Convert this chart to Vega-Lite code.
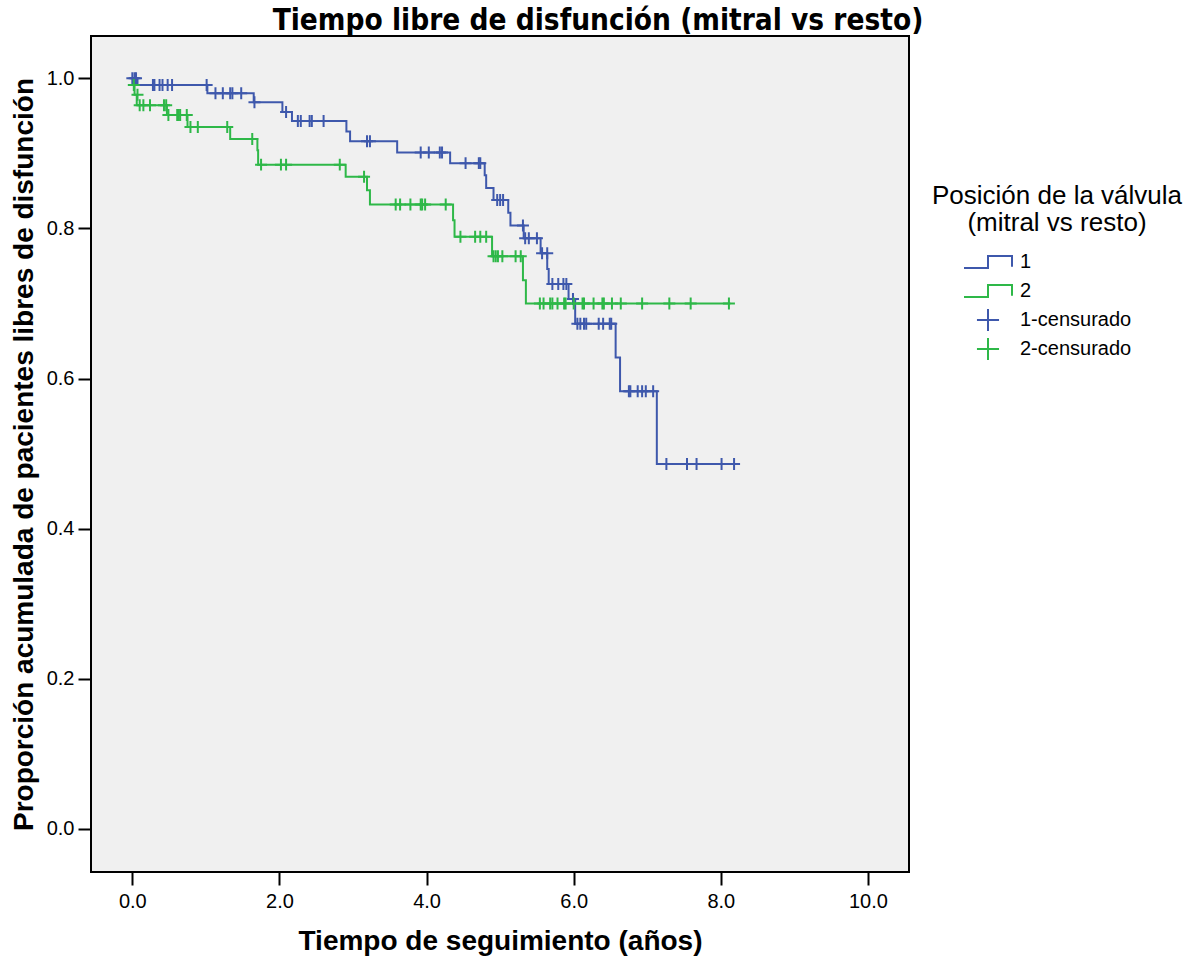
{
  "$schema": "https://vega.github.io/schema/vega-lite/v6.json",
  "width": 818,
  "height": 836,
  "autosize": {"type": "none"},
  "padding": {"left": 91, "top": 36, "right": 287, "bottom": 85},
  "background": "white",
  "title": {
    "text": "Tiempo libre de disfunción (mitral vs resto)",
    "anchor": "middle",
    "frame": "group",
    "dx": 98,
    "offset": 0,
    "font": "Liberation Sans Narrow, DejaVu Sans Condensed, Liberation Sans",
    "fontSize": 29.5,
    "fontWeight": "bold",
    "color": "black"
  },
  "datasets": {
    "km": [
      {"serie": "1", "kind": "step", "t": 0, "s": 1.0},
      {"serie": "1", "kind": "step", "t": 0.07, "s": 0.991},
      {"serie": "1", "kind": "step", "t": 1.02, "s": 0.980},
      {"serie": "1", "kind": "step", "t": 1.65, "s": 0.968},
      {"serie": "1", "kind": "step", "t": 2.04, "s": 0.955},
      {"serie": "1", "kind": "step", "t": 2.17, "s": 0.943},
      {"serie": "1", "kind": "step", "t": 2.91, "s": 0.929},
      {"serie": "1", "kind": "step", "t": 2.96, "s": 0.916},
      {"serie": "1", "kind": "step", "t": 3.60, "s": 0.901},
      {"serie": "1", "kind": "step", "t": 4.32, "s": 0.887},
      {"serie": "1", "kind": "step", "t": 4.79, "s": 0.871},
      {"serie": "1", "kind": "step", "t": 4.81, "s": 0.854},
      {"serie": "1", "kind": "step", "t": 4.91, "s": 0.838},
      {"serie": "1", "kind": "step", "t": 5.11, "s": 0.821},
      {"serie": "1", "kind": "step", "t": 5.14, "s": 0.804},
      {"serie": "1", "kind": "step", "t": 5.32, "s": 0.787},
      {"serie": "1", "kind": "step", "t": 5.55, "s": 0.767},
      {"serie": "1", "kind": "step", "t": 5.64, "s": 0.746},
      {"serie": "1", "kind": "step", "t": 5.66, "s": 0.726},
      {"serie": "1", "kind": "step", "t": 5.93, "s": 0.706},
      {"serie": "1", "kind": "step", "t": 6.02, "s": 0.673},
      {"serie": "1", "kind": "step", "t": 6.57, "s": 0.628},
      {"serie": "1", "kind": "step", "t": 6.63, "s": 0.583},
      {"serie": "1", "kind": "step", "t": 7.13, "s": 0.486},
      {"serie": "1", "kind": "step", "t": 8.18, "s": 0.486},
      {"serie": "2", "kind": "step", "t": 0, "s": 0.991},
      {"serie": "2", "kind": "step", "t": 0.03, "s": 0.978},
      {"serie": "2", "kind": "step", "t": 0.06, "s": 0.964},
      {"serie": "2", "kind": "step", "t": 0.47, "s": 0.951},
      {"serie": "2", "kind": "step", "t": 0.75, "s": 0.935},
      {"serie": "2", "kind": "step", "t": 1.33, "s": 0.919},
      {"serie": "2", "kind": "step", "t": 1.70, "s": 0.904},
      {"serie": "2", "kind": "step", "t": 1.71, "s": 0.885},
      {"serie": "2", "kind": "step", "t": 2.90, "s": 0.869},
      {"serie": "2", "kind": "step", "t": 3.19, "s": 0.851},
      {"serie": "2", "kind": "step", "t": 3.23, "s": 0.832},
      {"serie": "2", "kind": "step", "t": 4.36, "s": 0.811},
      {"serie": "2", "kind": "step", "t": 4.38, "s": 0.789},
      {"serie": "2", "kind": "step", "t": 4.89, "s": 0.763},
      {"serie": "2", "kind": "step", "t": 5.31, "s": 0.731},
      {"serie": "2", "kind": "step", "t": 5.35, "s": 0.700},
      {"serie": "2", "kind": "step", "t": 8.13, "s": 0.700},

      {"serie": "1-censurado", "kind": "cens", "t": 0.0, "s": 1.0},
      {"serie": "1-censurado", "kind": "cens", "t": 0.03, "s": 1.0},
      {"serie": "1-censurado", "kind": "cens", "t": 0.05, "s": 1.0},
      {"serie": "1-censurado", "kind": "cens", "t": 0.28, "s": 0.991},
      {"serie": "1-censurado", "kind": "cens", "t": 0.30, "s": 0.991},
      {"serie": "1-censurado", "kind": "cens", "t": 0.37, "s": 0.991},
      {"serie": "1-censurado", "kind": "cens", "t": 0.41, "s": 0.991},
      {"serie": "1-censurado", "kind": "cens", "t": 0.48, "s": 0.991},
      {"serie": "1-censurado", "kind": "cens", "t": 0.54, "s": 0.991},
      {"serie": "1-censurado", "kind": "cens", "t": 1.01, "s": 0.991},
      {"serie": "1-censurado", "kind": "cens", "t": 1.13, "s": 0.980},
      {"serie": "1-censurado", "kind": "cens", "t": 1.23, "s": 0.980},
      {"serie": "1-censurado", "kind": "cens", "t": 1.33, "s": 0.980},
      {"serie": "1-censurado", "kind": "cens", "t": 1.36, "s": 0.980},
      {"serie": "1-censurado", "kind": "cens", "t": 1.48, "s": 0.980},
      {"serie": "1-censurado", "kind": "cens", "t": 1.66, "s": 0.968},
      {"serie": "1-censurado", "kind": "cens", "t": 2.09, "s": 0.955},
      {"serie": "1-censurado", "kind": "cens", "t": 2.25, "s": 0.943},
      {"serie": "1-censurado", "kind": "cens", "t": 2.29, "s": 0.943},
      {"serie": "1-censurado", "kind": "cens", "t": 2.41, "s": 0.943},
      {"serie": "1-censurado", "kind": "cens", "t": 2.44, "s": 0.943},
      {"serie": "1-censurado", "kind": "cens", "t": 2.60, "s": 0.943},
      {"serie": "1-censurado", "kind": "cens", "t": 3.19, "s": 0.916},
      {"serie": "1-censurado", "kind": "cens", "t": 3.23, "s": 0.916},
      {"serie": "1-censurado", "kind": "cens", "t": 3.92, "s": 0.901},
      {"serie": "1-censurado", "kind": "cens", "t": 4.03, "s": 0.901},
      {"serie": "1-censurado", "kind": "cens", "t": 4.18, "s": 0.901},
      {"serie": "1-censurado", "kind": "cens", "t": 4.21, "s": 0.901},
      {"serie": "1-censurado", "kind": "cens", "t": 4.53, "s": 0.887},
      {"serie": "1-censurado", "kind": "cens", "t": 4.71, "s": 0.887},
      {"serie": "1-censurado", "kind": "cens", "t": 4.73, "s": 0.887},
      {"serie": "1-censurado", "kind": "cens", "t": 4.96, "s": 0.838},
      {"serie": "1-censurado", "kind": "cens", "t": 5.00, "s": 0.838},
      {"serie": "1-censurado", "kind": "cens", "t": 5.04, "s": 0.838},
      {"serie": "1-censurado", "kind": "cens", "t": 5.31, "s": 0.804},
      {"serie": "1-censurado", "kind": "cens", "t": 5.34, "s": 0.787},
      {"serie": "1-censurado", "kind": "cens", "t": 5.39, "s": 0.787},
      {"serie": "1-censurado", "kind": "cens", "t": 5.50, "s": 0.787},
      {"serie": "1-censurado", "kind": "cens", "t": 5.57, "s": 0.767},
      {"serie": "1-censurado", "kind": "cens", "t": 5.64, "s": 0.767},
      {"serie": "1-censurado", "kind": "cens", "t": 5.71, "s": 0.726},
      {"serie": "1-censurado", "kind": "cens", "t": 5.79, "s": 0.726},
      {"serie": "1-censurado", "kind": "cens", "t": 5.86, "s": 0.726},
      {"serie": "1-censurado", "kind": "cens", "t": 5.90, "s": 0.726},
      {"serie": "1-censurado", "kind": "cens", "t": 5.99, "s": 0.706},
      {"serie": "1-censurado", "kind": "cens", "t": 6.05, "s": 0.673},
      {"serie": "1-censurado", "kind": "cens", "t": 6.09, "s": 0.673},
      {"serie": "1-censurado", "kind": "cens", "t": 6.14, "s": 0.673},
      {"serie": "1-censurado", "kind": "cens", "t": 6.17, "s": 0.673},
      {"serie": "1-censurado", "kind": "cens", "t": 6.34, "s": 0.673},
      {"serie": "1-censurado", "kind": "cens", "t": 6.40, "s": 0.673},
      {"serie": "1-censurado", "kind": "cens", "t": 6.49, "s": 0.673},
      {"serie": "1-censurado", "kind": "cens", "t": 6.51, "s": 0.673},
      {"serie": "1-censurado", "kind": "cens", "t": 6.75, "s": 0.583},
      {"serie": "1-censurado", "kind": "cens", "t": 6.77, "s": 0.583},
      {"serie": "1-censurado", "kind": "cens", "t": 6.87, "s": 0.583},
      {"serie": "1-censurado", "kind": "cens", "t": 6.93, "s": 0.583},
      {"serie": "1-censurado", "kind": "cens", "t": 6.98, "s": 0.583},
      {"serie": "1-censurado", "kind": "cens", "t": 7.08, "s": 0.583},
      {"serie": "1-censurado", "kind": "cens", "t": 7.26, "s": 0.486},
      {"serie": "1-censurado", "kind": "cens", "t": 7.54, "s": 0.486},
      {"serie": "1-censurado", "kind": "cens", "t": 7.67, "s": 0.486},
      {"serie": "1-censurado", "kind": "cens", "t": 8.01, "s": 0.486},
      {"serie": "1-censurado", "kind": "cens", "t": 8.18, "s": 0.486},

      {"serie": "2-censurado", "kind": "cens", "t": 0.02, "s": 0.991},
      {"serie": "2-censurado", "kind": "cens", "t": 0.07, "s": 0.978},
      {"serie": "2-censurado", "kind": "cens", "t": 0.10, "s": 0.964},
      {"serie": "2-censurado", "kind": "cens", "t": 0.15, "s": 0.964},
      {"serie": "2-censurado", "kind": "cens", "t": 0.24, "s": 0.964},
      {"serie": "2-censurado", "kind": "cens", "t": 0.43, "s": 0.964},
      {"serie": "2-censurado", "kind": "cens", "t": 0.46, "s": 0.964},
      {"serie": "2-censurado", "kind": "cens", "t": 0.49, "s": 0.951},
      {"serie": "2-censurado", "kind": "cens", "t": 0.61, "s": 0.951},
      {"serie": "2-censurado", "kind": "cens", "t": 0.63, "s": 0.951},
      {"serie": "2-censurado", "kind": "cens", "t": 0.65, "s": 0.951},
      {"serie": "2-censurado", "kind": "cens", "t": 0.74, "s": 0.951},
      {"serie": "2-censurado", "kind": "cens", "t": 0.79, "s": 0.935},
      {"serie": "2-censurado", "kind": "cens", "t": 0.89, "s": 0.935},
      {"serie": "2-censurado", "kind": "cens", "t": 1.29, "s": 0.935},
      {"serie": "2-censurado", "kind": "cens", "t": 1.63, "s": 0.919},
      {"serie": "2-censurado", "kind": "cens", "t": 1.75, "s": 0.885},
      {"serie": "2-censurado", "kind": "cens", "t": 2.02, "s": 0.885},
      {"serie": "2-censurado", "kind": "cens", "t": 2.09, "s": 0.885},
      {"serie": "2-censurado", "kind": "cens", "t": 2.82, "s": 0.885},
      {"serie": "2-censurado", "kind": "cens", "t": 3.15, "s": 0.869},
      {"serie": "2-censurado", "kind": "cens", "t": 3.58, "s": 0.832},
      {"serie": "2-censurado", "kind": "cens", "t": 3.64, "s": 0.832},
      {"serie": "2-censurado", "kind": "cens", "t": 3.78, "s": 0.832},
      {"serie": "2-censurado", "kind": "cens", "t": 3.92, "s": 0.832},
      {"serie": "2-censurado", "kind": "cens", "t": 3.94, "s": 0.832},
      {"serie": "2-censurado", "kind": "cens", "t": 3.98, "s": 0.832},
      {"serie": "2-censurado", "kind": "cens", "t": 4.26, "s": 0.832},
      {"serie": "2-censurado", "kind": "cens", "t": 4.46, "s": 0.789},
      {"serie": "2-censurado", "kind": "cens", "t": 4.66, "s": 0.789},
      {"serie": "2-censurado", "kind": "cens", "t": 4.73, "s": 0.789},
      {"serie": "2-censurado", "kind": "cens", "t": 4.81, "s": 0.789},
      {"serie": "2-censurado", "kind": "cens", "t": 4.91, "s": 0.763},
      {"serie": "2-censurado", "kind": "cens", "t": 4.94, "s": 0.763},
      {"serie": "2-censurado", "kind": "cens", "t": 4.97, "s": 0.763},
      {"serie": "2-censurado", "kind": "cens", "t": 5.03, "s": 0.763},
      {"serie": "2-censurado", "kind": "cens", "t": 5.21, "s": 0.763},
      {"serie": "2-censurado", "kind": "cens", "t": 5.28, "s": 0.763},
      {"serie": "2-censurado", "kind": "cens", "t": 5.54, "s": 0.700},
      {"serie": "2-censurado", "kind": "cens", "t": 5.59, "s": 0.700},
      {"serie": "2-censurado", "kind": "cens", "t": 5.68, "s": 0.700},
      {"serie": "2-censurado", "kind": "cens", "t": 5.71, "s": 0.700},
      {"serie": "2-censurado", "kind": "cens", "t": 5.78, "s": 0.700},
      {"serie": "2-censurado", "kind": "cens", "t": 5.87, "s": 0.700},
      {"serie": "2-censurado", "kind": "cens", "t": 5.89, "s": 0.700},
      {"serie": "2-censurado", "kind": "cens", "t": 6.00, "s": 0.700},
      {"serie": "2-censurado", "kind": "cens", "t": 6.12, "s": 0.700},
      {"serie": "2-censurado", "kind": "cens", "t": 6.14, "s": 0.700},
      {"serie": "2-censurado", "kind": "cens", "t": 6.27, "s": 0.700},
      {"serie": "2-censurado", "kind": "cens", "t": 6.39, "s": 0.700},
      {"serie": "2-censurado", "kind": "cens", "t": 6.41, "s": 0.700},
      {"serie": "2-censurado", "kind": "cens", "t": 6.52, "s": 0.700},
      {"serie": "2-censurado", "kind": "cens", "t": 6.64, "s": 0.700},
      {"serie": "2-censurado", "kind": "cens", "t": 6.93, "s": 0.700},
      {"serie": "2-censurado", "kind": "cens", "t": 7.30, "s": 0.700},
      {"serie": "2-censurado", "kind": "cens", "t": 7.59, "s": 0.700},
      {"serie": "2-censurado", "kind": "cens", "t": 8.11, "s": 0.700}
    ]
  },
  "data": {"name": "km"},
  "layer": [
    {
      "transform": [{"filter": "datum.kind === 'step'"}],
      "mark": {"type": "line", "interpolate": "step-after", "strokeWidth": 2},
      "encoding": {
        "x": {"field": "t", "type": "quantitative"},
        "y": {"field": "s", "type": "quantitative"},
        "color": {"field": "serie", "type": "nominal"}
      }
    },
    {
      "transform": [{"filter": "datum.kind === 'cens'"}],
      "mark": {"type": "point", "filled": false, "strokeWidth": 2, "size": 170, "opacity": 1},
      "encoding": {
        "x": {"field": "t", "type": "quantitative"},
        "y": {"field": "s", "type": "quantitative"},
        "color": {"field": "serie", "type": "nominal"},
        "shape": {"field": "serie", "type": "nominal"}
      }
    }
  ],
  "encoding": {
    "x": {
      "field": "t",
      "type": "quantitative",
      "scale": {"domain": [-0.562, 10.558], "nice": false, "zero": false},
      "axis": {
        "values": [0, 2, 4, 6, 8, 10],
        "format": ".1f",
        "title": "Tiempo de seguimiento (años)",
        "titleFontSize": 28,
        "titleFontWeight": "bold",
        "titlePadding": 16,
        "labelFontSize": 20,
        "labelPadding": 6,
        "tickSize": 13,
        "tickWidth": 2,
        "domain": false,
        "grid": false
      }
    },
    "y": {
      "field": "s",
      "type": "quantitative",
      "scale": {"domain": [-0.0576, 1.0564], "nice": false, "zero": false},
      "axis": {
        "values": [0, 0.2, 0.4, 0.6, 0.8, 1.0],
        "format": ".1f",
        "title": "Proporción acumulada de pacientes libres de disfunción",
        "titleFontSize": 28,
        "titleFontWeight": "bold",
        "titlePadding": 8,
        "labelFontSize": 20,
        "labelPadding": 4,
        "tickSize": 13,
        "tickWidth": 2,
        "domain": false,
        "grid": false
      }
    },
    "color": {
      "field": "serie",
      "type": "nominal",
      "scale": {
        "domain": ["1", "2", "1-censurado", "2-censurado"],
        "range": ["#3E58AC", "#2EB848", "#3E58AC", "#2EB848"]
      },
      "legend": {
        "title": ["Posición de la válvula", "(mitral vs resto)"]
      }
    },
    "shape": {
      "field": "serie",
      "type": "nominal",
      "scale": {
        "domain": ["1", "2", "1-censurado", "2-censurado"],
        "range": [
          "M0,-0.92M0,0.92M12.2,0M-2,0.5H0V-0.5H2V0.4V-0.5H0V0.5H-2",
          "M0,-0.92M0,0.92M12.2,0M-2,0.5H0V-0.5H2V0.4V-0.5H0V0.5H-2",
          "M12.2,0M-0.92,0H0.92M0,-0.92V0.92",
          "M12.2,0M-0.92,0H0.92M0,-0.92V0.92"
        ]
      },
      "legend": {
        "title": ["Posición de la válvula", "(mitral vs resto)"]
      }
    }
  },
  "config": {
    "font": "Liberation Sans",
    "view": {"fill": "#F0F0F0", "stroke": "black", "strokeWidth": 2},
    "axis": {
      "labelColor": "black",
      "titleColor": "black",
      "tickColor": "black",
      "labelFont": "Liberation Sans",
      "titleFont": "Liberation Sans"
    },
    "legend": {
      "orient": "none",
      "legendX": 841,
      "legendY": 147,
      "titleFontSize": 26,
      "titleFontWeight": "normal",
      "titleColor": "black",
      "titleAlign": "center",
      "titleAnchor": "middle",
      "titleLineHeight": 27,
      "titlePadding": 13,
      "titleLimit": 400,
      "labelFontSize": 20,
      "labelColor": "black",
      "symbolSize": 576,
      "symbolStrokeWidth": 2,
      "symbolFillColor": "transparent",
      "symbolOffset": 0,
      "labelOffset": 19,
      "rowPadding": -5
    }
  }
}
